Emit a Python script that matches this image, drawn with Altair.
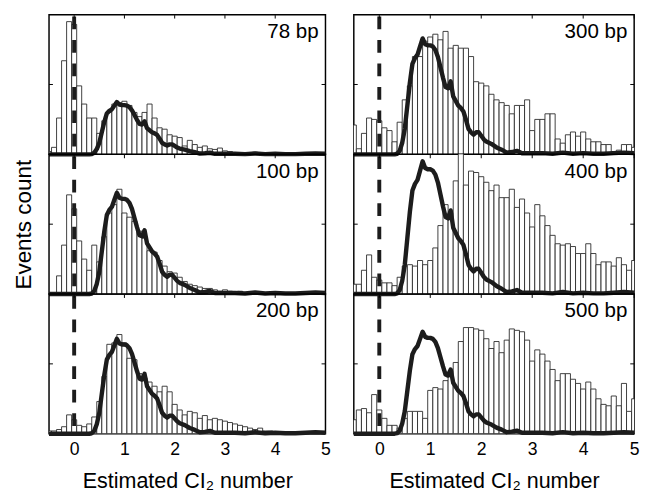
import altair as alt
import pandas as pd

# ---------------- data ----------------
BIN_CENTERS = [round(-0.5 + 0.1 * i, 1) for i in range(56)]   # -0.5 ... 5.0
BIN_WIDTH = 0.1
X_TICKS = [0, 1, 2, 3, 4, 5]
ZERO_LINE = [0.0]

# histogram heights (arbitrary units, panel full height = 100)
COUNTS_78 = [2, 5, 26, 67, 95, 93, 49, 36, 26, 26,
             15, 24, 30, 36, 37, 38, 35, 30, 27, 30,
             36, 26, 19, 18, 14, 13, 12, 6, 10, 7,
             5, 6, 4, 3.5, 4.5, 2.5, 2, 1, 1, 0.5,
             0.5, 1.5, 1, 0, 0, 0, 0, 0, 0, 0,
             0, 1.2, 0, 0, 1.2, 0]
COUNTS_100 = [0, 0, 13, 35, 71, 61, 38, 25, 17, 35,
              23, 41, 58, 64, 75, 58, 55, 52, 45, 40,
              31, 30, 24, 20, 16, 15, 12, 9, 7, 6,
              5, 4, 4, 3, 2, 3, 2, 1, 2, 1,
              1, 1, 0, 1, 0, 1, 0, 1, 0, 0,
              0, 1, 0, 1, 1, 0]
COUNTS_200 = [2, 2, 3, 5, 13.5, 10, 6, 5, 7, 12,
              23, 41, 64, 65, 71, 65, 54, 53, 43, 40,
              37, 34, 30, 34, 30, 21, 17, 13.5, 16, 15,
              11, 13, 10, 11, 10, 9, 8, 7, 6, 5,
              4, 3, 4, 2, 2, 1.5, 1.5, 1.5, 1, 0,
              0, 0, 1, 1, 1, 0]
COUNTS_300 = [21, 4, 15, 26, 25, 24, 19, 17, 9, 23,
              39, 49, 70, 70, 81, 84, 86, 82, 88, 76,
              78, 76, 76, 70, 52, 51, 49, 43, 39, 37,
              35, 29, 35, 35, 39, 17, 25, 25, 29, 29,
              11, 8, 14, 16, 13, 16, 11, 9, 9, 7,
              7, 2, 3, 7, 7, 5]
COUNTS_400 = [7, 7, 17, 28, 12, 10, 8, 8, 6, 12,
              20, 21, 20, 24, 21, 24, 33, 49, 64, 58,
              81, 105, 78, 88, 87, 84, 80, 74, 78, 69,
              69, 75, 62, 68, 58, 48, 64, 56, 49, 42,
              36, 35, 36, 34, 29, 29, 36, 29, 21, 23,
              23, 20, 26, 21, 17, 24]
COUNTS_500 = [10, 17, 18, 15, 28, 17, 11, 6, 6, 4,
              11, 16, 16, 16, 11, 31, 33, 32, 38, 45,
              51, 66, 76, 76, 75, 74, 68, 61, 66, 58,
              67, 75, 74, 73, 67, 52, 60, 57, 52, 46,
              38, 43, 43, 39, 36, 32, 37, 32, 25, 21,
              20, 27, 20, 36, 16, 25]

COUNTS = {"78 bp": COUNTS_78, "100 bp": COUNTS_100, "200 bp": COUNTS_200,
          "300 bp": COUNTS_300, "400 bp": COUNTS_400, "500 bp": COUNTS_500}

# reference (single CI2) distribution curve, normalised to its peak
LINE_X = [-0.5, 0.3, 0.35, 0.4, 0.45, 0.5, 0.55, 0.6, 0.65, 0.7, 0.75, 0.8,
          0.85, 0.9, 0.95, 1.0, 1.05, 1.1, 1.15, 1.2, 1.25, 1.3, 1.35, 1.4,
          1.45, 1.5, 1.55, 1.6, 1.65, 1.7, 1.75, 1.8, 1.85, 1.9, 1.95, 2.0,
          2.05, 2.1, 2.2, 2.3, 2.4, 2.5, 2.6, 2.7, 2.8, 3.0, 3.2, 3.4, 3.6,
          3.8, 4.0, 4.2, 4.4, 4.6, 4.8, 5.0]
LINE_SHAPE = [0, 0, 0.005, 0.03, 0.1, 0.22, 0.42, 0.62, 0.78, 0.83, 0.86, 0.93,
              1.0, 0.95, 0.94, 0.94, 0.93, 0.9, 0.84, 0.75, 0.66, 0.58, 0.57, 0.63,
              0.5, 0.46, 0.42, 0.4, 0.37, 0.3, 0.22, 0.19, 0.17, 0.19, 0.19, 0.16,
              0.13, 0.11, 0.09, 0.06, 0.04, 0.015, 0.02, 0.03, 0.01, 0.01, 0.01, 0.005, 0.015,
              0.005, 0.01, 0.005, 0.005, 0.01, 0.015, 0.01]
LINE_PEAK = {"78 bp": 37.5, "100 bp": 72.5, "200 bp": 68,
             "300 bp": 83, "400 bp": 95, "500 bp": 73}

Y_MID_TICK = [50]

# ---------------- chart ----------------
W_LEFT, W_RIGHT, H = 283, 287, 143
FONT = "Liberation Sans"
INK = "#1c1c1c"


def panel(label, width, show_x, y_title):
    bars_df = pd.DataFrame({
        "x0": [c - BIN_WIDTH / 2 for c in BIN_CENTERS],
        "x1": [c + BIN_WIDTH / 2 for c in BIN_CENTERS],
        "count": COUNTS[label],
    })
    line_df = pd.DataFrame({"x": LINE_X,
                            "count": [s * LINE_PEAK[label] for s in LINE_SHAPE]})
    zero_df = pd.DataFrame({"x0": ZERO_LINE})
    ticks_df = pd.DataFrame({"x0": X_TICKS})
    ymid_df = pd.DataFrame({"count": Y_MID_TICK})

    xscale = alt.Scale(domain=[-0.5, 5], nice=False, zero=False)
    yscale = alt.Scale(domain=[0, 100], nice=False)
    if show_x:
        xaxis = alt.Axis(values=X_TICKS, format="d", title="Estimated CI\u2082 number",
                         labelFontSize=18, titleFontSize=22, titleFontWeight="normal",
                         ticks=False, domain=False, grid=False, labelPadding=7,
                         labelFlush=False, titlePadding=13, labelColor="black",
                         titleColor="black", labelFont=FONT, titleFont=FONT)
    else:
        xaxis = None
    if y_title:
        yaxis = alt.Axis(title="Events count", labels=False, ticks=False, domain=False,
                         grid=False, titleFontSize=23, titleFontWeight="normal",
                         titlePadding=14, titleColor="black", titleFont=FONT)
    else:
        yaxis = None

    X = lambda f: alt.X(f, scale=xscale, axis=xaxis)
    Y = lambda f: alt.Y(f, scale=yscale, axis=yaxis)

    bars = alt.Chart(bars_df).mark_rect(fill="white", stroke="#2a2a2a",
                                        strokeWidth=0.9, clip=True).encode(
        x=X("x0:Q"), x2="x1:Q", y=Y("count:Q"), y2=alt.datum(0))
    line = alt.Chart(line_df).mark_line(color=INK, strokeWidth=4.5,
                                        strokeJoin="round").encode(
        x=X("x:Q"), y=Y("count:Q"))
    dash = alt.Chart(zero_df).mark_rule(color=INK, strokeWidth=4,
                                        strokeDash=[13, 11]).encode(
        x=X("x0:Q"), y=alt.value(2), y2=alt.value(H - 2))
    top_ticks = alt.Chart(ticks_df).mark_rule(color="black", strokeWidth=1).encode(
        x=X("x0:Q"), y=alt.value(0.5), y2=alt.value(4))
    left_tick = alt.Chart(ymid_df).mark_rule(color="black", strokeWidth=1).encode(
        y=Y("count:Q"), x=alt.value(0), x2=alt.value(4))
    right_tick = alt.Chart(ymid_df).mark_rule(color="black", strokeWidth=1).encode(
        y=Y("count:Q"), x=alt.value(width - 4), x2=alt.value(width))
    text = alt.Chart(ymid_df).mark_text(align="right", baseline="top", fontSize=21,
                                        font=FONT, color="black").encode(
        x=alt.value(width - 7), y=alt.value(7), text=alt.value(label))

    return alt.layer(bars, line, dash, top_ticks, left_tick, right_tick, text).properties(
        width=width, height=H)


left = alt.vconcat(
    panel("78 bp", W_LEFT, False, False),
    panel("100 bp", W_LEFT, False, True),
    panel("200 bp", W_LEFT, True, False),
    spacing=0, bounds="flush",
)
right = alt.vconcat(
    panel("300 bp", W_RIGHT, False, False),
    panel("400 bp", W_RIGHT, False, False),
    panel("500 bp", W_RIGHT, True, False),
    spacing=0, bounds="flush",
)

chart = alt.hconcat(left, right, spacing=20).properties(
    padding={"left": 4, "top": 0, "right": 1, "bottom": 0}
).configure_view(stroke="black", strokeWidth=1.5)

chart.save("out.html", embed_options={"renderer": "svg", "actions": False})
